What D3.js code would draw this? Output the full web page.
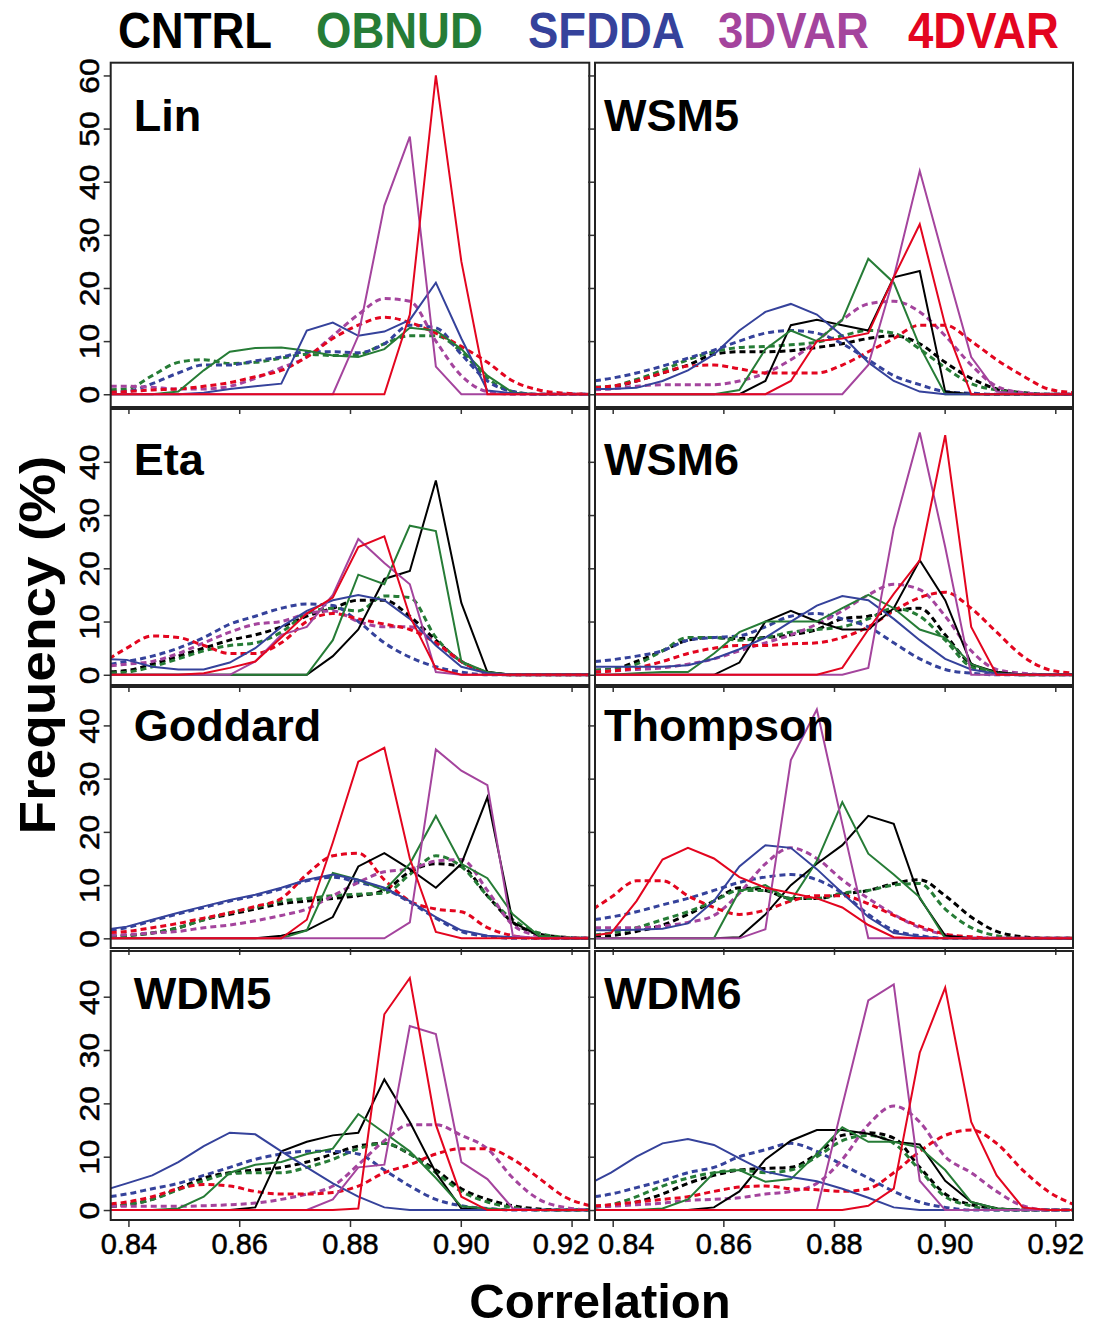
<!DOCTYPE html>
<html>
<head>
<meta charset="utf-8">
<script src="https://cdn.jsdelivr.net/npm/d3@7"></script>
<style>
  body { margin: 0; background: #fff; }
  svg { display: block; }
  text { font-family: "Liberation Sans", Arial, Helvetica, sans-serif; }
</style>
</head>
<body>
<svg id="chart" width="1097" height="1329"></svg>
<script>
// histogram bin centres (correlation)
const binCenters = [0.8350, 0.8397, 0.8443, 0.8490, 0.8536, 0.8583, 0.8629, 0.8676, 0.8722, 0.8769,
                    0.8815, 0.8862, 0.8908, 0.8955, 0.9001, 0.9048, 0.9094, 0.9141, 0.9187, 0.9234]
const schemes = ['CNTRL', 'OBNUD', 'SFDDA', '3DVAR', '4DVAR']
const schemeColors = ['#000000', '#267c36', '#35429b', '#a4449d', '#e3051f']
const panelNames = ['Lin', 'WSM5', 'Eta', 'WSM6', 'Goddard', 'Thompson', 'WDM5', 'WDM6']
const xTicks = [0.84, 0.86, 0.88, 0.90, 0.92]
const rowMax = [60, 48, 45.4, 46.7]
const rowTicks = [[0, 10, 20, 30, 40, 50, 60], [0, 10, 20, 30, 40], [0, 10, 20, 30, 40], [0, 10, 20, 30, 40]]

// frequency (%) per bin, order: CNTRL, OBNUD, SFDDA, 3DVAR, 4DVAR
const linSolid = [
  null,
  [0, 0, 0, 0.5, 4.5, 8, 8.7, 8.8, 8.2, 7.3, 7, 8.5, 12.5, 12, 8.5, 3.5, 0.3, 0, 0, 0],
  [0, 0, 0, 0, 0.3, 1, 1.5, 2, 12, 13.5, 11, 11.8, 14, 21, 10.5, 0.7, 0.2, 0, 0, 0],
  [0, 0, 0, 0, 0, 0, 0, 0, 0, 0, 11, 35.5, 48.5, 5.2, 0, 0, 0, 0, 0, 0],
  [0, 0, 0, 0, 0, 0, 0, 0, 0, 0, 0, 0, 15, 60, 25, 0, 0, 0, 0, 0]
]
const linDotted = [
  null,
  [0.8, 1, 3.5, 6, 6.5, 5.8, 6, 6.8, 7.5, 7.3, 7.5, 9.5, 11, 11, 8, 3, 0.5, 0, 0, 0],
  [0.3, 0.5, 2, 4, 5.5, 5.5, 6.3, 7, 8, 8, 7.8, 9.5, 13, 12.5, 7.5, 2.5, 0.5, 0, 0, 0],
  [1.5, 1.5, 1.3, 1, 1, 1.5, 3, 5, 7, 11, 15, 18, 17.5, 10, 3.5, 0.5, 0, 0, 0, 0],
  [0.3, 0.5, 0.8, 1, 1.5, 2.2, 3.3, 4.5, 7, 10.5, 13, 14.5, 13.5, 11.5, 9, 6, 2.5, 0.8, 0.2, 0]
]
const wsm5Solid = [
  [0, 0, 0, 0, 0, 0, 0, 2.5, 13, 14, 13, 12, 22, 23.2, 0.5, 0, 0, 0, 0, 0],
  [0, 0, 0, 0, 0, 0, 0.8, 8.5, 12, 10, 14, 25.5, 21, 9, 0, 0, 0, 0, 0, 0],
  [1, 1, 1.2, 2.5, 4.5, 7.5, 12, 15.5, 17, 15, 11, 6, 2.5, 0.5, 0, 0, 0, 0, 0, 0],
  [0, 0, 0, 0, 0, 0, 0, 0, 0, 0, 0, 5.5, 22, 42, 24.5, 7, 0.5, 0, 0, 0],
  [0, 0, 0, 0, 0, 0, 0, 0, 2.5, 10, 10.5, 11.5, 22, 32, 13, 0, 0, 0, 0, 0]
]
const wsm5Dotted = [
  [1, 1.3, 2.5, 4, 5.5, 7.5, 8, 8, 8.2, 8.8, 9.5, 10.5, 11, 9.5, 6, 3, 1, 0.3, 0, 0],
  [1.3, 1.5, 2.8, 4.5, 6.5, 8, 8.8, 9, 9.3, 9.8, 11, 12, 11.5, 8.5, 5, 2, 0.8, 0.2, 0, 0],
  [2.3, 3, 4, 5.3, 6.8, 8.3, 10, 11.5, 12, 11.5, 9.5, 6.5, 3.5, 1.8, 0.5, 0.2, 0, 0, 0, 0],
  [0.8, 1, 1.5, 1.8, 1.8, 1.8, 2.5, 4, 6.5, 10, 14, 17, 17.5, 15.5, 11, 5.5, 1.5, 0.3, 0, 0],
  [1.2, 1.5, 2.5, 4, 5.3, 5.5, 4.8, 4, 4, 4, 5.5, 8, 10.5, 13, 13, 10, 6.5, 3.5, 1, 0.3]
]
const etaSolid = [
  [0, 0, 0, 0, 0, 0, 0, 0, 0, 3.5, 8.5, 18, 19.5, 36.5, 13.5, 0.5, 0, 0, 0, 0],
  [0, 0, 0, 0, 0, 0, 0, 0, 0, 6.5, 18.8, 17, 28, 27, 2.5, 0.5, 0, 0, 0, 0],
  [3, 2.8, 1.5, 1, 1, 2.3, 5, 9, 12, 14, 15, 14, 10.5, 5.5, 1.5, 0.3, 0, 0, 0, 0],
  [0, 0, 0, 0, 0, 0, 2.5, 7.5, 9, 15, 25.5, 21, 17, 0.5, 0, 0, 0, 0, 0, 0],
  [0, 0, 0, 0, 0.3, 1.3, 2.5, 7, 11.5, 14.5, 24, 26, 11, 1.2, 0, 0, 0, 0, 0, 0]
]
const etaDotted = [
  [0.5, 0.8, 2, 3.5, 5, 6.5, 7.5, 9, 11, 12.5, 14, 14, 11, 6.5, 2.5, 0.5, 0, 0, 0, 0],
  [0.3, 0.5, 1.5, 3, 4.5, 5.5, 6, 8, 11.5, 12.5, 12, 14.8, 14.5, 7, 2.5, 0.5, 0, 0, 0, 0],
  [1.7, 2.5, 3.5, 5, 7, 9.5, 11, 12.5, 13.3, 13, 10, 6, 3.3, 1.5, 0.5, 0, 0, 0, 0, 0],
  [1.5, 2, 2.5, 4, 6, 8, 9.5, 10, 11.5, 12, 10, 9, 9, 6, 2.5, 0.5, 0, 0, 0, 0],
  [2, 5, 7.3, 7, 5.5, 4, 4, 6, 10, 11.5, 10.5, 9.5, 8.5, 6, 2.5, 0.5, 0, 0, 0, 0]
]
const wsm6Solid = [
  [0, 0, 0, 0, 0, 0, 2.3, 10, 12, 10, 8.5, 8.5, 12.5, 21.5, 14, 2, 0.5, 0, 0, 0],
  [0, 0, 0.3, 0.5, 0.5, 4, 8, 10, 10, 10, 12.5, 15, 12.5, 8.5, 7, 2, 0.3, 0, 0, 0],
  [1.5, 1.5, 1.5, 1.5, 1.8, 3, 4.8, 7, 10, 13, 14.8, 14, 10.5, 6.5, 3, 1, 0.2, 0, 0, 0],
  [0, 0, 0, 0, 0, 0, 0, 0, 0, 0, 0, 1.3, 27.5, 45.5, 24, 0, 0, 0, 0, 0],
  [0, 0, 0, 0, 0, 0, 0, 0, 0, 0, 1.3, 8.5, 15.2, 21.5, 45, 9, 0, 0, 0, 0]
]
const wsm6Dotted = [
  [0.8, 1, 2.5, 4.5, 6.5, 7, 6.8, 7, 7.5, 8.5, 10.5, 11, 12, 12.5, 7.5, 2, 0.5, 0, 0, 0],
  [0.8, 1, 2, 4.5, 7, 7, 6.5, 7, 8, 8.5, 9, 10.5, 12.5, 11, 6.5, 1.5, 0.5, 0, 0, 0],
  [2.3, 2.8, 3.5, 4.5, 6.5, 7, 7.3, 9, 11, 11.5, 10.5, 9, 6, 3, 1, 0.3, 0, 0, 0, 0],
  [0.5, 0.7, 1, 1.3, 2, 3, 4.5, 6, 7.5, 9.5, 12, 15, 17, 16, 11, 4.5, 1, 0.3, 0, 0],
  [0.5, 0.7, 1.3, 2.5, 4, 5, 5.5, 5.5, 5.8, 6, 7, 9, 12, 14.5, 15.5, 12.5, 8, 3.5, 1, 0.3]
]
const goddardSolid = [
  [0, 0, 0, 0, 0, 0, 0, 0.5, 1.5, 4, 13.5, 16, 13, 9.5, 14, 26.5, 3, 0.5, 0, 0],
  [0, 0, 0, 0, 0, 0, 0, 0, 1.5, 12.3, 11, 9, 14, 23, 14, 11.3, 4.5, 0.5, 0, 0],
  [1.5, 2.2, 3.5, 4.8, 6, 7.2, 8.2, 9.5, 11, 12, 11, 9.5, 7, 4, 1.5, 0.5, 0.2, 0, 0, 0],
  [0, 0, 0, 0, 0, 0, 0, 0, 0, 0, 0, 0, 3, 35.5, 31.5, 28.8, 0.5, 0, 0, 0],
  [0, 0, 0, 0, 0, 0, 0, 0, 3.5, 18, 33.2, 35.8, 15, 1.2, 0, 0, 0, 0, 0, 0]
]
const goddardDotted = [
  [0.3, 0.5, 1, 2, 3.5, 4.5, 5.5, 6.5, 7, 7.5, 8, 9, 12.5, 14, 13.5, 8, 3, 0.8, 0.2, 0],
  [0.3, 0.5, 1, 2, 3.5, 4.8, 5.8, 7, 7.5, 8, 8.3, 8.5, 12, 15.5, 13.5, 8, 3.5, 1, 0.2, 0],
  [1.3, 2, 3.3, 4.6, 5.8, 7, 8, 9.3, 10.8, 11.5, 10.5, 9.3, 6.8, 3.8, 1.3, 0.4, 0, 0, 0, 0],
  [0.5, 0.7, 1, 1.3, 2, 2.5, 3.3, 4.3, 5.5, 8, 10.5, 12.5, 13, 14.5, 14.8, 9, 2.5, 0.5, 0, 0],
  [1, 1.3, 2, 2.8, 3.8, 4.8, 6, 7.5, 12, 15.5, 16, 11, 7, 5.5, 5, 2, 0.5, 0, 0, 0]
]
const thompsonSolid = [
  [0, 0, 0, 0, 0, 0, 0.2, 4.5, 10, 14, 17.5, 23, 21.5, 7.5, 0.5, 0, 0, 0, 0, 0],
  [0, 0, 0, 0, 0, 0, 8.9, 10, 7, 14.5, 25.6, 15.9, 12, 7.7, 0, 0, 0, 0, 0, 0],
  [1.5, 1.5, 1.6, 1.8, 2.8, 7, 13.5, 17.5, 17, 13, 8.5, 4, 1, 0.3, 0, 0, 0, 0, 0, 0],
  [0, 0, 0, 0, 0, 0, 0, 1.7, 33.5, 43, 21.5, 0, 0, 0, 0, 0, 0, 0, 0, 0],
  [0.3, 1, 7, 14.8, 17, 15, 11.5, 9.5, 8.5, 7.5, 5.8, 2.5, 0.2, 0, 0, 0, 0, 0, 0, 0]
]
const thompsonDotted = [
  [0.2, 0.5, 1.3, 2.5, 4.5, 7, 9.5, 9, 7.5, 7.5, 8.3, 9, 10.3, 11, 8, 4, 1.3, 0.3, 0, 0],
  [0.5, 1, 2, 3.5, 5, 7, 9, 9, 7.5, 7.5, 8.5, 9, 10, 10.3, 5.5, 2, 0.5, 0, 0, 0],
  [3.3, 4, 5, 6.3, 7.5, 9, 10.5, 11.5, 12, 11, 8.5, 4.5, 1.5, 0.5, 0, 0, 0, 0, 0, 0],
  [2, 2, 2, 2.3, 3, 4.3, 8.5, 14, 17, 15, 11, 7.5, 4.5, 2, 0.7, 0, 0, 0, 0, 0],
  [4.5, 7.7, 10.8, 10.8, 8, 5.8, 4.5, 5.3, 7, 8, 8, 6.5, 4.3, 2.3, 0.8, 0.3, 0, 0, 0, 0]
]
const wdm5Solid = [
  [0, 0, 0, 0, 0, 0, 0.5, 11, 12.8, 14, 14.5, 24.5, 16.5, 7, 0.3, 0, 0, 0, 0, 0],
  [0, 0, 0, 0.3, 2.5, 7, 8.5, 9, 10.5, 11.5, 18, 14.5, 11, 6, 0.7, 0.3, 0, 0, 0, 0],
  [3.5, 5, 6.5, 9, 12, 14.5, 14.2, 11, 8, 5, 2.5, 0.5, 0, 0, 0, 0, 0, 0, 0, 0],
  [0, 0, 0, 0, 0, 0, 0, 0, 0, 2, 8, 8.5, 34.5, 33, 9, 5.8, 0.3, 0, 0, 0],
  [0, 0, 0, 0, 0, 0, 0, 0, 0, 0, 0.3, 36.7, 43.5, 16, 2.5, 0, 0, 0, 0, 0]
]
const wdm5Dotted = [
  [0.5, 1, 2, 4, 6, 7, 7.5, 8, 9, 10.5, 12, 12.5, 10.5, 7.5, 4, 2, 0.8, 0.2, 0, 0],
  [0.5, 1, 2, 3.8, 5.5, 6.8, 7, 7, 8, 9.5, 11.5, 12.5, 10.5, 7, 3.5, 1.5, 0.5, 0, 0, 0],
  [2.3, 3, 4, 5, 6.5, 8, 9.5, 10.5, 11, 11, 10.5, 7.5, 4.5, 2, 0.8, 0.3, 0, 0, 0, 0],
  [0.7, 0.7, 0.7, 0.7, 0.8, 1, 1.3, 2, 3, 4.5, 8.5, 13, 16, 16, 14, 11.5, 6, 2, 0.5, 0],
  [1, 1.5, 2.5, 4, 4.8, 4.5, 3.5, 3, 3, 3.3, 4.5, 7, 8.5, 10.5, 11.5, 11.5, 9.5, 6, 2.5, 0.8]
]
const wdm6Solid = [
  [0, 0, 0, 0, 0, 0.5, 3.5, 9.5, 13, 15, 15, 14.3, 12.8, 12.3, 5.5, 1.5, 0.3, 0, 0, 0],
  [0, 0, 0, 0.3, 2, 7, 7.5, 5.3, 5.8, 10.5, 15.5, 12.8, 12.8, 11.7, 7.5, 1.5, 0.3, 0, 0, 0],
  [4.5, 7, 10, 12.5, 13.3, 12.2, 9.7, 7.2, 6.2, 5.4, 4, 2.3, 0.5, 0, 0, 0, 0, 0, 0, 0],
  [0, 0, 0, 0, 0, 0, 0, 0, 0, 0, 19.6, 39.3, 42.3, 5.5, 0, 0, 0, 0, 0, 0],
  [0, 0, 0, 0, 0, 0, 0, 0, 0, 0, 0, 0.8, 4, 29.5, 41.7, 16.5, 6.5, 0.5, 0, 0]
]
const wdm6Dotted = [
  [0.5, 0.8, 1.5, 3, 5, 6.5, 7.5, 7.8, 8, 10.5, 14, 14.5, 13.5, 8, 3, 1, 0.3, 0, 0, 0],
  [0.5, 1, 2.5, 4.5, 6, 7, 7.5, 7, 7.5, 10, 13, 14, 12.5, 7.5, 2.5, 0.8, 0, 0, 0, 0],
  [2.3, 3, 4.2, 5.5, 7, 8, 10, 11.3, 12.5, 11, 8.5, 6, 3.5, 1.5, 0.5, 0, 0, 0, 0, 0],
  [0.6, 0.7, 1, 1.3, 1.8, 2, 2.3, 3, 3.5, 5, 9.5, 16, 19.5, 16.5, 10, 7, 3.5, 0.8, 0, 0],
  [0.7, 1, 1.5, 2, 2.5, 3.5, 4.3, 4.5, 4, 3.8, 3.5, 4, 7, 11, 14, 15, 12.5, 7.5, 3.5, 1]
]

const panelSeries = [
  [linSolid, linDotted], [wsm5Solid, wsm5Dotted],
  [etaSolid, etaDotted], [wsm6Solid, wsm6Dotted],
  [goddardSolid, goddardDotted], [thompsonSolid, thompsonDotted],
  [wdm5Solid, wdm5Dotted], [wdm6Solid, wdm6Dotted]
]

// layout
const colX = [[110.7, 589.3], [595, 1073]]
const rowY = [[62.7, 407], [409, 685], [687, 948], [951, 1220]]
const legendX = [118, 316, 528, 718, 908]

const svg = d3.select('#chart')
const pad = (xTicks[xTicks.length - 1] - xTicks[0]) * 0.04

panelNames.forEach((name, i) => {
  const col = i % 2
  const row = Math.floor(i / 2)
  const [x0, x1] = colX[col]
  const [y0, y1] = rowY[row]
  const yMax = rowMax[row]

  const x = d3.scaleLinear().domain([xTicks[0] - pad, xTicks[xTicks.length - 1] + pad]).range([x0, x1])
  const y = d3.scaleLinear().domain([-0.04 * yMax, 1.04 * yMax]).range([y1, y0])

  const g = svg.append('g')

  g.append('clipPath').attr('id', 'clip' + i)
    .append('rect')
    .attr('x', x0).attr('y', y0)
    .attr('width', x1 - x0).attr('height', y1 - y0)

  const plot = g.append('g').attr('clip-path', 'url(#clip' + i + ')')

  const dotted = d3.line()
    .x((d, k) => x(binCenters[k]))
    .y(d => y(d))
    .curve(d3.curveMonotoneX)
  const solid = d3.line()
    .x((d, k) => x(binCenters[k]))
    .y(d => y(d))

  const [solidSet, dottedSet] = panelSeries[i]

  dottedSet.forEach((vals, s) => {
    if (!vals) return
    plot.append('path')
      .attr('d', dotted(vals))
      .attr('fill', 'none')
      .attr('stroke', schemeColors[s])
      .attr('stroke-width', 3)
      .attr('stroke-dasharray', '6,4')
  })
  solidSet.forEach((vals, s) => {
    if (!vals) return
    plot.append('path')
      .attr('d', solid(vals))
      .attr('fill', 'none')
      .attr('stroke', schemeColors[s])
      .attr('stroke-width', 2)
  })

  // x axis ticks (labels on the bottom row only)
  const xAxis = g.append('g')
    .attr('transform', 'translate(0,' + y1 + ')')
    .call(d3.axisBottom(x)
      .tickValues(xTicks)
      .tickSize(7)
      .tickPadding(6)
      .tickFormat(row === 3 ? d3.format('.2f') : ''))
  xAxis.select('.domain').remove()
  xAxis.selectAll('line').attr('stroke', '#333').attr('stroke-width', 1.5)
  // labels next to the gap between the columns are nudged apart
  xAxis.selectAll('text')
    .attr('font-size', 29)
    .attr('fill', '#000')
    .attr('stroke', '#000')
    .attr('stroke-width', 0.5)
    .attr('dx', (d, k) => col === 0 && k === xTicks.length - 1 ? -11 : (col === 1 && k === 0 ? 13 : 0))

  // y axis ticks (labels on the left column only)
  const yAxis = g.append('g')
    .attr('transform', 'translate(' + x0 + ',0)')
    .call(d3.axisLeft(y)
      .tickValues(rowTicks[row])
      .tickSize(7)
      .tickFormat(col === 0 ? d3.format('d') : ''))
  yAxis.select('.domain').remove()
  yAxis.selectAll('line').attr('stroke', '#333').attr('stroke-width', 1.5)
  yAxis.selectAll('text')
    .attr('x', 0).attr('y', -12).attr('dy', 0)
    .attr('text-anchor', 'middle')
    .attr('transform', 'rotate(-90) scale(1.18,1)')
    .attr('font-size', 27)
    .attr('fill', '#000')
    .attr('stroke', '#000')
    .attr('stroke-width', 0.5)

  // frame
  g.append('rect')
    .attr('x', x0).attr('y', y0)
    .attr('width', x1 - x0).attr('height', y1 - y0)
    .attr('fill', 'none')
    .attr('stroke', '#222')
    .attr('stroke-width', 2)

  g.append('text')
    .attr('x', col === 0 ? x0 + 23 : x0 + 9)
    .attr('y', y0 + [68, 66, 54, 58][row])
    .attr('font-size', 45)
    .attr('font-weight', 'bold')
    .text(name)
})

// legend
svg.append('g')
  .selectAll('text')
  .data(schemes)
  .join('text')
  .attr('transform', (d, i) => 'translate(' + legendX[i] + ',48) scale(0.91,1)')
  .attr('font-size', 50)
  .attr('font-weight', 'bold')
  .attr('fill', (d, i) => schemeColors[i])
  .text(d => d)

// axis titles
svg.append('text')
  .attr('transform', 'translate(55,645) rotate(-90) scale(1.1,1)')
  .attr('text-anchor', 'middle')
  .attr('font-size', 50)
  .attr('font-weight', 'bold')
  .text('Frequency (%)')

svg.append('text')
  .attr('x', 600)
  .attr('y', 1318)
  .attr('text-anchor', 'middle')
  .attr('font-size', 49)
  .attr('font-weight', 'bold')
  .text('Correlation')
</script>
</body>
</html>
